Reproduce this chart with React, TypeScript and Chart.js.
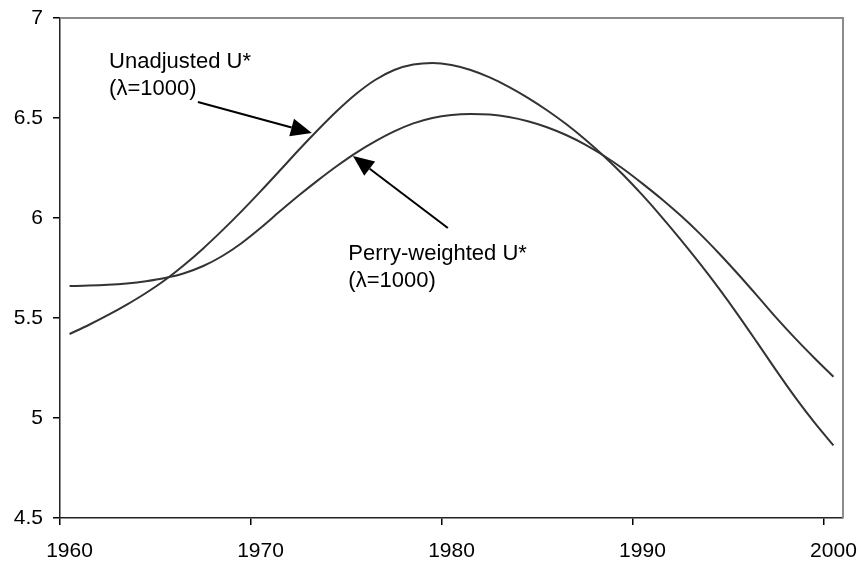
import React, { useEffect, useRef } from 'react';
import { Chart, registerables } from 'chart.js';

Chart.register(...registerables);

const years = [
  '1960', '1961', '1962', '1963', '1964', '1965', '1966', '1967', '1968', '1969',
  '1970', '1971', '1972', '1973', '1974', '1975', '1976', '1977', '1978', '1979',
  '1980', '1981', '1982', '1983', '1984', '1985', '1986', '1987', '1988', '1989',
  '1990', '1991', '1992', '1993', '1994', '1995', '1996', '1997', '1998', '1999',
  '2000',
];

const unadjusted = [
  5.42, 5.465, 5.514, 5.567, 5.625, 5.69, 5.765, 5.848, 5.938, 6.033,
  6.133, 6.236, 6.34, 6.44, 6.535, 6.62, 6.69, 6.74, 6.767, 6.775,
  6.765, 6.74, 6.703, 6.656, 6.601, 6.539, 6.47, 6.393, 6.308, 6.215,
  6.114, 6.006, 5.892, 5.773, 5.648, 5.516, 5.378, 5.238, 5.103, 4.978,
  4.863,
];

const perryWeighted = [
  5.66, 5.662, 5.666, 5.673, 5.684, 5.7, 5.724, 5.76, 5.81, 5.874,
  5.95, 6.032, 6.112, 6.188, 6.26, 6.326, 6.383, 6.433, 6.473, 6.5,
  6.515, 6.52, 6.517, 6.505, 6.484, 6.454, 6.415, 6.367, 6.31, 6.245,
  6.172, 6.095, 6.012, 5.922, 5.824, 5.72, 5.612, 5.502, 5.398, 5.3,
  5.206,
];

const yMin = 4.5;
const yMax = 7;
const yStep = 0.5;
const labelEvery = 10;

// annotation anchors in data space: [category index, value]
const noteTexts = [
  { lines: ['Unadjusted U*', '(\u03bb=1000)'], at: [2.07, 6.75] },
  { lines: ['Perry-weighted U*', '(\u03bb=1000)'], at: [14.6, 5.79] },
];
const noteArrows = [
  { from: [6.72, 6.58], to: [12.69, 6.425] },
  { from: [19.81, 5.95], to: [14.84, 6.31] },
];

const FONT = '"Liberation Sans", Arial, sans-serif';

const framePlugin = {
  id: 'frame',
  beforeDatasetsDraw(chart: any) {
    const { ctx, chartArea } = chart;
    ctx.save();
    ctx.strokeStyle = '#8c8c8c';
    ctx.lineWidth = 2;
    ctx.beginPath();
    ctx.moveTo(chartArea.left, chartArea.top);
    ctx.lineTo(chartArea.right, chartArea.top);
    ctx.lineTo(chartArea.right, chartArea.bottom);
    ctx.stroke();
    ctx.restore();
  },
};

const notesPlugin = {
  id: 'notes',
  afterDatasetsDraw(chart: any) {
    const { ctx } = chart;
    const xs = chart.scales.x;
    const ys = chart.scales.y;
    ctx.save();
    ctx.fillStyle = '#000';
    ctx.font = `22px ${FONT}`;
    ctx.textAlign = 'left';
    ctx.textBaseline = 'alphabetic';
    noteTexts.forEach((n) => {
      const px = xs.getPixelForValue(n.at[0]);
      const py = ys.getPixelForValue(n.at[1]);
      n.lines.forEach((line, i) => ctx.fillText(line, px, py + i * 27));
    });
    noteArrows.forEach((a) => {
      const x1 = xs.getPixelForValue(a.from[0]);
      const y1 = ys.getPixelForValue(a.from[1]);
      const x2 = xs.getPixelForValue(a.to[0]);
      const y2 = ys.getPixelForValue(a.to[1]);
      const ang = Math.atan2(y2 - y1, x2 - x1);
      const hl = 21;
      const hw = 9;
      const bx = x2 - hl * Math.cos(ang);
      const by = y2 - hl * Math.sin(ang);
      ctx.strokeStyle = '#000';
      ctx.lineWidth = 2;
      ctx.beginPath();
      ctx.moveTo(x1, y1);
      ctx.lineTo(bx, by);
      ctx.stroke();
      ctx.beginPath();
      ctx.moveTo(x2, y2);
      ctx.lineTo(bx + hw * Math.sin(ang), by - hw * Math.cos(ang));
      ctx.lineTo(bx - hw * Math.sin(ang), by + hw * Math.cos(ang));
      ctx.closePath();
      ctx.fill();
    });
    ctx.restore();
  },
};

export default function App() {
  const ref = useRef<HTMLCanvasElement | null>(null);

  useEffect(() => {
    if (!ref.current) return;
    const chart = new Chart(ref.current, {
      type: 'line',
      data: {
        labels: years,
        datasets: [
          {
            label: 'Unadjusted U*',
            data: unadjusted,
            borderColor: '#333333',
            borderWidth: 2,
            pointRadius: 0,
            cubicInterpolationMode: 'monotone',
            fill: false,
          },
          {
            label: 'Perry-weighted U*',
            data: perryWeighted,
            borderColor: '#333333',
            borderWidth: 2,
            pointRadius: 0,
            cubicInterpolationMode: 'monotone',
            fill: false,
          },
        ],
      },
      options: {
        responsive: false,
        animation: false,
        layout: { padding: { top: 18, right: 18, left: 0, bottom: 0 } },
        plugins: {
          legend: { display: false },
          tooltip: { enabled: false },
          title: { display: false },
        },
        scales: {
          x: {
            type: 'category',
            offset: true,
            grid: {
              offset: true,
              drawOnChartArea: false,
              drawTicks: true,
              tickLength: 7,
              lineWidth: 1.5,
              color: (c: any) => (c.index % labelEvery === 0 ? '#000' : 'rgba(0,0,0,0)'),
            },
            border: { display: true, color: '#222', width: 1.5 },
            ticks: {
              autoSkip: false,
              maxRotation: 0,
              minRotation: 0,
              padding: 14,
              color: '#000',
              font: { family: FONT, size: 21 },
              callback: (_v: any, i: number) => (i % labelEvery === 0 ? years[i] : ''),
            },
            afterFit: (s: any) => {
              s.height = 49;
              s.paddingLeft = 0;
              s.paddingRight = 0;
            },
          },
          y: {
            type: 'linear',
            min: yMin,
            max: yMax,
            grid: {
              drawOnChartArea: false,
              drawTicks: true,
              tickLength: 7,
              lineWidth: 1.5,
              color: '#000',
            },
            border: { display: true, color: '#222', width: 1.5 },
            ticks: {
              stepSize: yStep,
              padding: 10,
              color: '#000',
              font: { family: FONT, size: 21 },
              callback: (v: any) => String(v),
            },
            afterFit: (s: any) => {
              s.width = 60;
              s.paddingTop = 0;
              s.paddingBottom = 0;
            },
          },
        },
      },
      plugins: [framePlugin, notesPlugin],
    });
    return () => chart.destroy();
  }, []);

  return (
    <canvas
      ref={ref}
      width={861}
      height={567}
      style={{ position: 'absolute', left: 0, top: 0, display: 'block', background: '#fff' }}
    />
  );
}
